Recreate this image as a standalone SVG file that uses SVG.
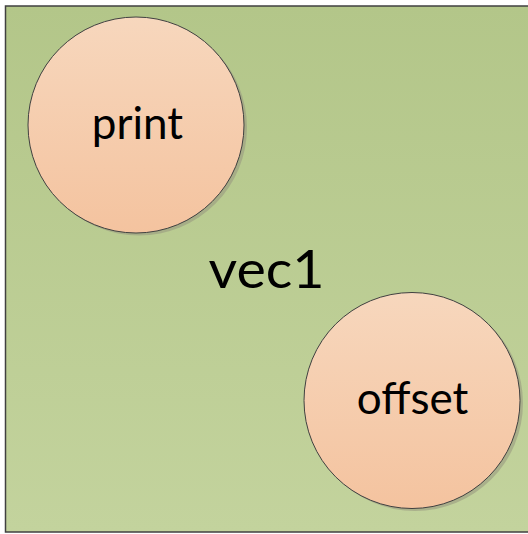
<svg xmlns="http://www.w3.org/2000/svg" width="528" height="534" viewBox="0 0 528 534">
<defs>
<linearGradient id="bg" x1="0" y1="0" x2="0" y2="1">
<stop offset="0" stop-color="#b3c689"/>
<stop offset="1" stop-color="#c3d39d"/>
</linearGradient>
<linearGradient id="cf" x1="0" y1="0" x2="0" y2="1">
<stop offset="0" stop-color="#f7d7bd"/>
<stop offset="1" stop-color="#f4c39f"/>
</linearGradient>
<style>
.node circle.c{fill:url(#cf);stroke:#404040;stroke-width:1}
.node circle.s{fill:#9a9a80;opacity:0.6}
text{font-family:Lato,"Liberation Sans",sans-serif;fill:#000;text-anchor:middle}
</style>
</defs>
<g id="container">
<rect x="5.5" y="6" width="530" height="526" fill="url(#bg)" stroke="#404040" stroke-width="1.5"/>
<text x="266.5" y="288" font-size="53" textLength="116" lengthAdjust="spacingAndGlyphs">vec1</text>
</g>
<g id="print" class="node">
<circle class="s" cx="139" cy="127.5" r="108"/>
<circle class="c" cx="136" cy="125" r="108"/>
<text x="137.5" y="139" font-size="44">print</text>
</g>
<g id="offset" class="node">
<circle class="s" cx="415" cy="403" r="108"/>
<circle class="c" cx="412" cy="400.5" r="108"/>
<text x="412.5" y="414" font-size="44">offset</text>
</g>
<g id="connectors"/>
</svg>
